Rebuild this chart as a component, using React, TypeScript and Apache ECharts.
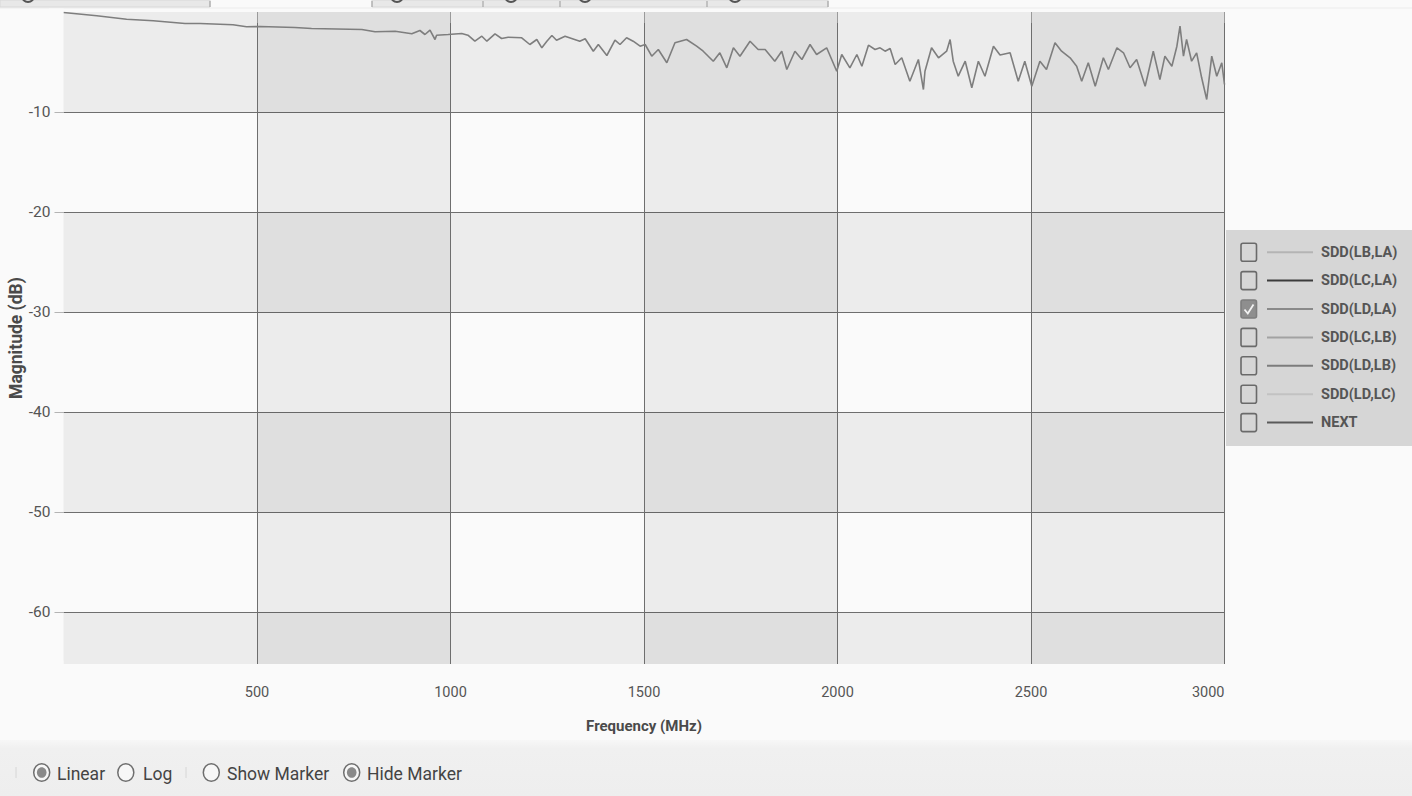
import React, { useEffect, useRef } from "react";
import * as echarts from "echarts";

// ---- data ----
const freqMHz = [
  0, 86, 163, 232, 314, 353, 438, 473, 508, 598, 641, 771, 805, 857, 900, 921, 934, 947, 960, 964,
  994, 1029, 1045, 1063, 1081, 1094, 1115, 1132, 1149, 1184, 1205, 1223, 1236, 1249, 1262, 1274,
  1296, 1334, 1348, 1369, 1382, 1404, 1425, 1438, 1455, 1472, 1490, 1503, 1520, 1537, 1559, 1580,
  1610, 1636, 1653, 1679, 1696, 1714, 1731, 1748, 1774, 1795, 1813, 1838, 1856, 1869, 1890, 1908,
  1929, 1946, 1972, 1998, 2011, 2032, 2050, 2063, 2080, 2097, 2110, 2123, 2136, 2149, 2166, 2187,
  2209, 2222, 2226, 2243, 2261, 2282, 2291, 2299, 2312, 2330, 2347, 2364, 2381, 2403, 2420, 2446,
  2467, 2484, 2502, 2523, 2540, 2562, 2579, 2601, 2618, 2631, 2648, 2666, 2687, 2700, 2722, 2739,
  2756, 2773, 2795, 2816, 2833, 2846, 2864, 2877, 2885, 2894, 2902, 2915, 2928, 2941, 2954, 2967,
  2980, 2993, 3000,
];
const magnitudeDb = [
  -0.05, -0.38, -0.72, -0.88, -1.15, -1.15, -1.28, -1.48, -1.45, -1.55, -1.65, -1.75, -1.98, -1.92, -2.18, -1.85, -2.25, -1.82, -2.75, -2.32,
  -2.25, -2.15, -2.32, -2.92, -2.42, -2.92, -2.18, -2.65, -2.52, -2.58, -3.25, -2.75, -3.58, -2.92, -2.35, -2.82,
  -2.42, -2.92, -2.68, -3.92, -3.25, -4.35, -2.82, -3.25, -2.58, -2.92, -3.42, -3.25, -4.42, -3.75, -5.08, -3.08,
  -2.75, -3.42, -3.92, -4.92, -4.08, -5.58, -3.58, -4.42, -2.92, -3.75, -3.75, -4.92, -3.92, -5.75, -3.92, -4.75,
  -3.25, -4.25, -3.58, -5.92, -4.25, -5.58, -4.25, -5.42, -3.32, -3.75, -3.58, -3.92, -3.65, -5.25, -4.58, -6.92,
  -4.75, -7.75, -5.92, -3.58, -4.58, -3.92, -2.75, -4.92, -6.42, -4.92, -7.58, -4.92, -6.42, -3.42, -4.3, -4.08,
  -6.92, -4.92, -7.42, -4.92, -5.75, -3.08, -3.92, -4.58, -5.42, -6.92, -5.08, -7.42, -4.58, -5.75, -3.58, -4.08,
  -5.58, -4.75, -7.42, -3.92, -6.75, -4.42, -5.42, -3.42, -1.42, -4.42, -2.75, -4.92, -4.08, -6.58, -8.75, -4.42,
  -6.42, -5.08, -7.25,
];
const xRange = [0, 3000];
const xStep = 500;
const yRange = [-65.2, 0];
const legendNames = ["SDD(LB,LA)", "SDD(LC,LA)", "SDD(LD,LA)", "SDD(LC,LB)", "SDD(LD,LB)", "SDD(LD,LC)", "NEXT"];
const legendChecked = [false, false, true, false, false, false, false];
const scaleOptions = ["Linear", "Log"];
const markerOptions = ["Show Marker", "Hide Marker"];

// ---- styles ----
const FONT = "Roboto, 'Noto Sans', sans-serif";
const BG = "#fafafa";
const legendLineColors = ["#b4b4b4", "#3c3c3c", "#8a8a8a", "#a2a2a2", "#7c7c7c", "#c2c2c2", "#5a5a5a"];

function buildGraphics() {
  const g: any[] = [];
  // top tab strip remnants
  g.push({ type: "line", shape: { x1: 0, y1: 8, x2: 1412, y2: 8 }, style: { stroke: "#ececec", lineWidth: 1 } });
  g.push({ type: "rect", shape: { x: 0, y: 0, width: 210, height: 7 }, style: { fill: "#e8e8e8", stroke: "#d8d8d8", lineWidth: 1 } });
  g.push({ type: "rect", shape: { x: 372, y: 0, width: 456, height: 7 }, style: { fill: "#e8e8e8", stroke: "#d8d8d8", lineWidth: 1 } });
  [210, 372, 483, 560, 707, 828].forEach((x) => {
    g.push({ type: "line", shape: { x1: x, y1: 1, x2: x, y2: 7 }, style: { stroke: "#9a9a9a", lineWidth: 1 } });
  });
  [28, 397, 511, 585, 735].forEach((cx) => {
    g.push({ type: "arc", shape: { cx, cy: -4, r: 6, startAngle: 0, endAngle: Math.PI }, style: { stroke: "#555", lineWidth: 2, fill: "none" } });
  });

  // hide the edge ticks (0 MHz, -65.2 dB and 0 dB), which the reference has not
  g.push({ type: "rect", z: 50, shape: { x: 49, y: 8.6, width: 14.4, height: 7 }, style: { fill: BG } });
  g.push({ type: "rect", z: 50, shape: { x: 49, y: 660.5, width: 14.4, height: 7 }, style: { fill: BG } });
  g.push({ type: "rect", z: 50, shape: { x: 58, y: 664.6, width: 10, height: 14 }, style: { fill: BG } });

  // legend panel
  const panelZ = 100;
  g.push({ type: "rect", z: panelZ, shape: { x: 1226, y: 230, width: 186, height: 216 }, style: { fill: "#d6d6d6" } });
  legendNames.forEach((name, i) => {
    const cy = 252.2 + i * 28.4;
    const checked = legendChecked[i];
    g.push({
      type: "rect", z: panelZ + 1,
      shape: { x: 1241, y: cy - 9, width: 15.5, height: 18, r: 2 },
      style: { fill: checked ? "#8e8e8e" : "none", stroke: checked ? "#7e7e7e" : "#6a6a6a", lineWidth: 1.6 },
    });
    if (checked) {
      g.push({
        type: "polyline", z: panelZ + 2,
        shape: { points: [[1244.5, cy + 0.5], [1247.8, cy + 4.5], [1253.5, cy - 4.5]] },
        style: { stroke: "#f2f2f2", lineWidth: 1.8, fill: "none" },
      });
    }
    g.push({
      type: "line", z: panelZ + 1,
      shape: { x1: 1267, y1: cy, x2: 1313, y2: cy },
      style: { stroke: legendLineColors[i], lineWidth: 2 },
    });
    g.push({
      type: "text", z: panelZ + 1, x: 1321, y: cy,
      style: { text: name, fill: "#555555", fontFamily: FONT, fontSize: 14.5, fontWeight: "bold", verticalAlign: "middle", align: "left" },
    });
  });

  // bottom control bar
  g.push({
    type: "rect", shape: { x: 0, y: 740, width: 1412, height: 56 },
    style: {
      fill: new echarts.graphic.LinearGradient(0, 0, 0, 1, [
        { offset: 0, color: "#f7f7f7" },
        { offset: 0.15, color: "#f0f0f0" },
        { offset: 1, color: "#eeeeee" },
      ]),
    },
  });
  [16, 186].forEach((x) => {
    g.push({ type: "line", shape: { x1: x, y1: 767, x2: x, y2: 778 }, style: { stroke: "#d6d6d6", lineWidth: 1 } });
  });
  const radios = [
    { cx: 41.7, tx: 57, text: scaleOptions[0], on: true },
    { cx: 125.8, tx: 143, text: scaleOptions[1], on: false },
    { cx: 211.3, tx: 227, text: markerOptions[0], on: false },
    { cx: 351.7, tx: 367, text: markerOptions[1], on: true },
  ];
  radios.forEach((r) => {
    g.push({ type: "ellipse", shape: { cx: r.cx, cy: 772.5, rx: 8, ry: 8.8 }, style: { fill: "#f7f7f7", stroke: "#6e6e6e", lineWidth: 1.5 } });
    if (r.on) {
      g.push({ type: "ellipse", shape: { cx: r.cx, cy: 772.5, rx: 4.8, ry: 5.3 }, style: { fill: "#8a8a8a" } });
    }
    g.push({
      type: "text", x: r.tx, y: 773.5,
      style: { text: r.text, fill: "#444444", fontFamily: FONT, fontSize: 17.5, verticalAlign: "middle", align: "left" },
    });
  });
  return g;
}

export default function App() {
  const ref = useRef<HTMLDivElement>(null);
  useEffect(() => {
    if (!ref.current) return;
    const chart = echarts.init(ref.current, undefined, { renderer: "svg" });
    const option: any = {
      animation: false,
      backgroundColor: BG,
      grid: { left: 63.5, top: 12, width: 1161, height: 652, containLabel: false, outerBoundsMode: "none" },
      xAxis: {
        type: "value",
        min: xRange[0],
        max: xRange[1],
        interval: xStep,
        name: "Frequency (MHz)",
        nameLocation: "middle",
        nameGap: 54,
        nameMoveOverlap: false,
        nameTextStyle: { fontFamily: FONT, fontSize: 15, fontWeight: "bold", color: "#4a4a4a" },
        axisLine: { show: false },
        axisTick: { show: true, length: 11, lineStyle: { color: "#9a9a9a", width: 1 } },
        axisLabel: {
          showMinLabel: false,
          showMaxLabel: true,
          margin: 21,
          fontFamily: FONT,
          fontSize: 14.5,
          color: "#555555",
          alignMaxLabel: "right",
          formatter: (v: number) => String(v),
        },
        splitLine: { show: true, showMinLine: false, showMaxLine: true, lineStyle: { color: "#6e6e6e", width: 1 } },
        splitArea: { show: true, areaStyle: { color: ["rgba(0,0,0,0)", "rgba(0,0,0,0.055)"] } },
      },
      yAxis: {
        type: "value",
        min: yRange[0],
        max: yRange[1],
        splitNumber: 7,
        name: "Magnitude (dB)",
        nameLocation: "middle",
        nameGap: 39,
        nameMoveOverlap: false,
        nameTextStyle: { fontFamily: FONT, fontSize: 17.5, fontWeight: "bold", color: "#4a4a4a" },
        axisLine: { show: false },
        axisTick: { show: true, length: 9, lineStyle: { color: "#b4b4b4", width: 1 } },
        axisLabel: {
          showMinLabel: false,
          showMaxLabel: false,
          margin: 13,
          fontFamily: FONT,
          fontSize: 15.5,
          color: "#555555",
          formatter: (v: number) => String(v),
        },
        splitLine: { show: true, showMinLine: false, showMaxLine: false, lineStyle: { color: "#6e6e6e", width: 1 } },
        splitArea: { show: true, areaStyle: { color: ["rgba(0,0,0,0.055)", "rgba(0,0,0,0)"] } },
      },
      series: [
        {
          name: legendNames[2],
          type: "line",
          data: freqMHz.map((f, i) => [f, magnitudeDb[i]]),
          showSymbol: false,
          lineStyle: { color: "#7e7e7e", width: 1.6 },
          z: 5,
        },
      ],
      graphic: buildGraphics(),
    };
    chart.setOption(option);
    return () => chart.dispose();
  }, []);
  return <div ref={ref} style={{ position: "fixed", left: 0, top: 0, width: 1412, height: 796 }} />;
}
